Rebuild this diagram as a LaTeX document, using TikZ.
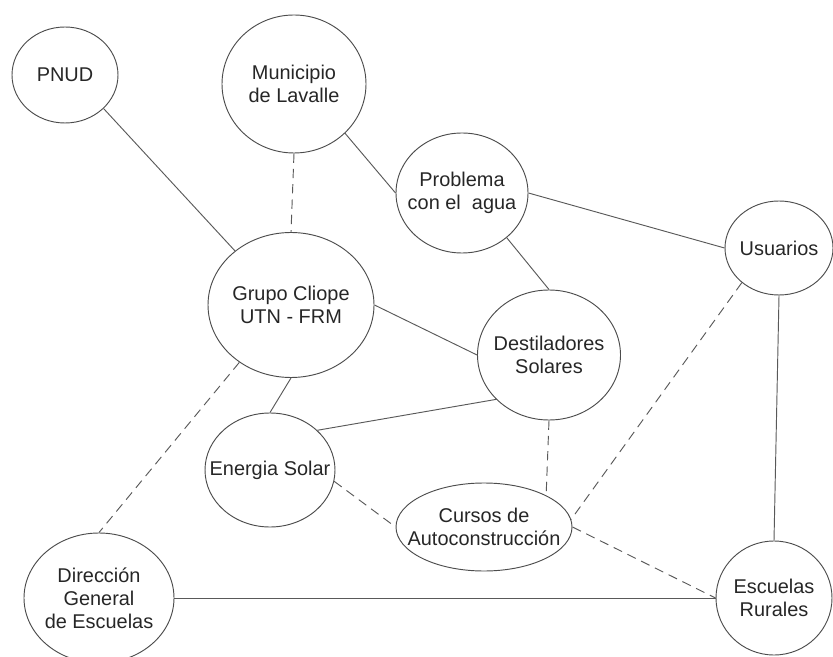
\documentclass[tikz,border=0pt]{standalone}
\usepackage{fontspec}
\setmainfont{Liberation Sans}
\usetikzlibrary{shapes.geometric}

\tikzset{
  blob/.style={draw=black!70, line width=0.8pt, ellipse, inner sep=0pt},
  every label/.style={align=center, font=\fontsize{17}{19.5}\selectfont, text=black!85},
  link/.style={draw=black!65, line width=0.8pt},
  dlink/.style={link, dash pattern=on 2.8mm off 1.8mm},
}

\begin{document}
\begin{tikzpicture}[x=0.3mm,y=-0.3mm]
  \useasboundingbox (0,0) rectangle (833,657);
  % the actors
  \node[blob, minimum width=31.8mm, minimum height=28.8mm, label=center:PNUD] (pnud) at (65,75) {};
  \node[blob, minimum width=43.2mm, minimum height=41.4mm, label=center:{Municipio\\de Lavalle}] (muni) at (294,84) {};
  \node[blob, minimum width=49.8mm, minimum height=43.5mm, label=center:{Grupo Cliope\\UTN - FRM}] (grupo) at (291,305) {};
  \node[blob, minimum width=39.6mm, minimum height=36mm, label=center:{Problema\\con el\ \ agua}] (agua) at (462,193) {};
  \node[blob, minimum width=32.4mm, minimum height=28.2mm, label=center:Usuarios] (usu) at (779,248) {};
  \node[blob, minimum width=42.9mm, minimum height=39mm, label=center:{Destiladores\\Solares}] (dest) at (549,355) {};
  \node[blob, minimum width=39mm, minimum height=34.2mm, label=center:Energia Solar] (ener) at (270,470) {};
  \node[blob, minimum width=52.8mm, minimum height=26.4mm, label=center:{Cursos de\\Autoconstrucción}] (curso) at (484,527) {};
  \node[blob, minimum width=45mm, minimum height=39mm, label=center:{Dirección\\General\\de Escuelas}] (dge) at (99,598) {};
  \node[blob, minimum width=34.8mm, minimum height=34.2mm, label=center:{Escuelas\\Rurales}] (esc) at (774,598) {};
  % solid links
  \draw[link] (pnud.-41) -- (grupo.136);
  \draw[link] (muni.-44) -- (agua.west);
  \draw[link] (agua.east) -- (usu.west);
  \draw[link] (agua.-45) -- (dest.north);
  \draw[link] (grupo.east) -- (dest.west);
  \draw[link] (grupo.south) -- (ener.north);
  \draw[link] (ener.40) -- (dest.220);
  \draw[link] (usu.south) -- (esc.north);
  \draw[link] (dge.east) -- (esc.west);
  % dashed links
  \draw[dlink] (muni.south) -- (grupo.north);
  \draw[dlink] (grupo.-132) -- (dge.north);
  \draw[dlink] (ener.-10) -- (curso.west);
  \draw[dlink] (dest.south) -- (curso.27);
  \draw[dlink] (usu.-137) -- (curso.5);
  \draw[dlink] (curso.east) -- (esc.west);
\end{tikzpicture}
\end{document}
